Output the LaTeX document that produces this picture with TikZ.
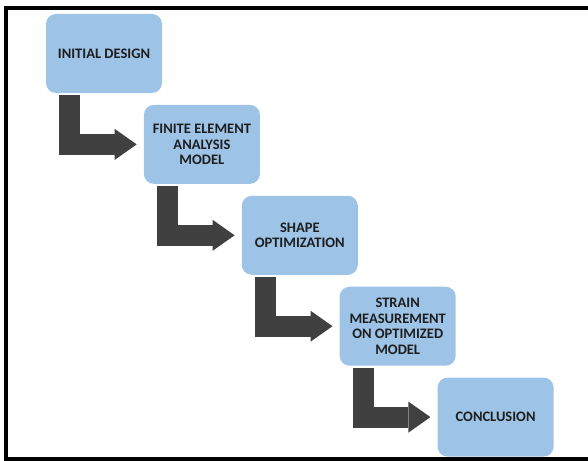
\documentclass[tikz,border=0pt]{standalone}
\usepackage{fontspec}
\setmainfont{Carlito}
\usetikzlibrary{positioning}
\usetikzlibrary{arrows.meta}
\definecolor{cajaazul}{RGB}{157,195,230}
\definecolor{grisflecha}{RGB}{64,64,64}
\definecolor{texto}{RGB}{30,30,30}

\begin{document}
\begin{tikzpicture}[x=1pt, y=-1pt]
		% formats
		\tikzstyle{box} = [fill=cajaazul, rounded corners=10pt, minimum width=116pt, minimum height=79pt, inner sep=2pt, align=center, text=texto, font=\fontsize{14.5}{15.7}\selectfont\bfseries]
		\tikzstyle{arrow} = [grisflecha, line width=21pt, line join=miter, -{Triangle[length=22pt, width=31pt, line width=0pt]}]
		\useasboundingbox (0,0) rectangle (588,460);
		% frame
		\draw [line width=4pt] (592,8) -- (6,8) -- (6,459) -- (592,459);
		% nodes
		\node [box] (ID) at (104,53.5) {INITIAL DESIGN};
		\node [box] (FEA) [below right=11.5pt and -18.5pt of ID] {FINITE ELEMENT\\ANALYSIS\\MODEL};
		\node [box] (SO) [below right=11.5pt and -18.5pt of FEA] {SHAPE\\OPTIMIZATION};
		\node [box] (SM) [below right=11.5pt and -18.5pt of SO] {STRAIN\\MEASUREMENT\\ON OPTIMIZED\\MODEL};
		\node [box] (CO) [below right=11.5pt and -18.5pt of SM] {CONCLUSION};
		% arrows
		\draw [arrow] ([xshift=24pt, yshift=-2pt]ID.south west) |- ([xshift=-7pt]FEA.west);
		\draw [arrow] ([xshift=24pt, yshift=-2pt]FEA.south west) |- ([xshift=-7pt]SO.west);
		\draw [arrow] ([xshift=24pt, yshift=-2pt]SO.south west) |- ([xshift=-7pt]SM.west);
		\draw [arrow] ([xshift=24pt, yshift=-2pt]SM.south west) |- ([xshift=-7pt]CO.west);
	\end{tikzpicture}
\end{document}
